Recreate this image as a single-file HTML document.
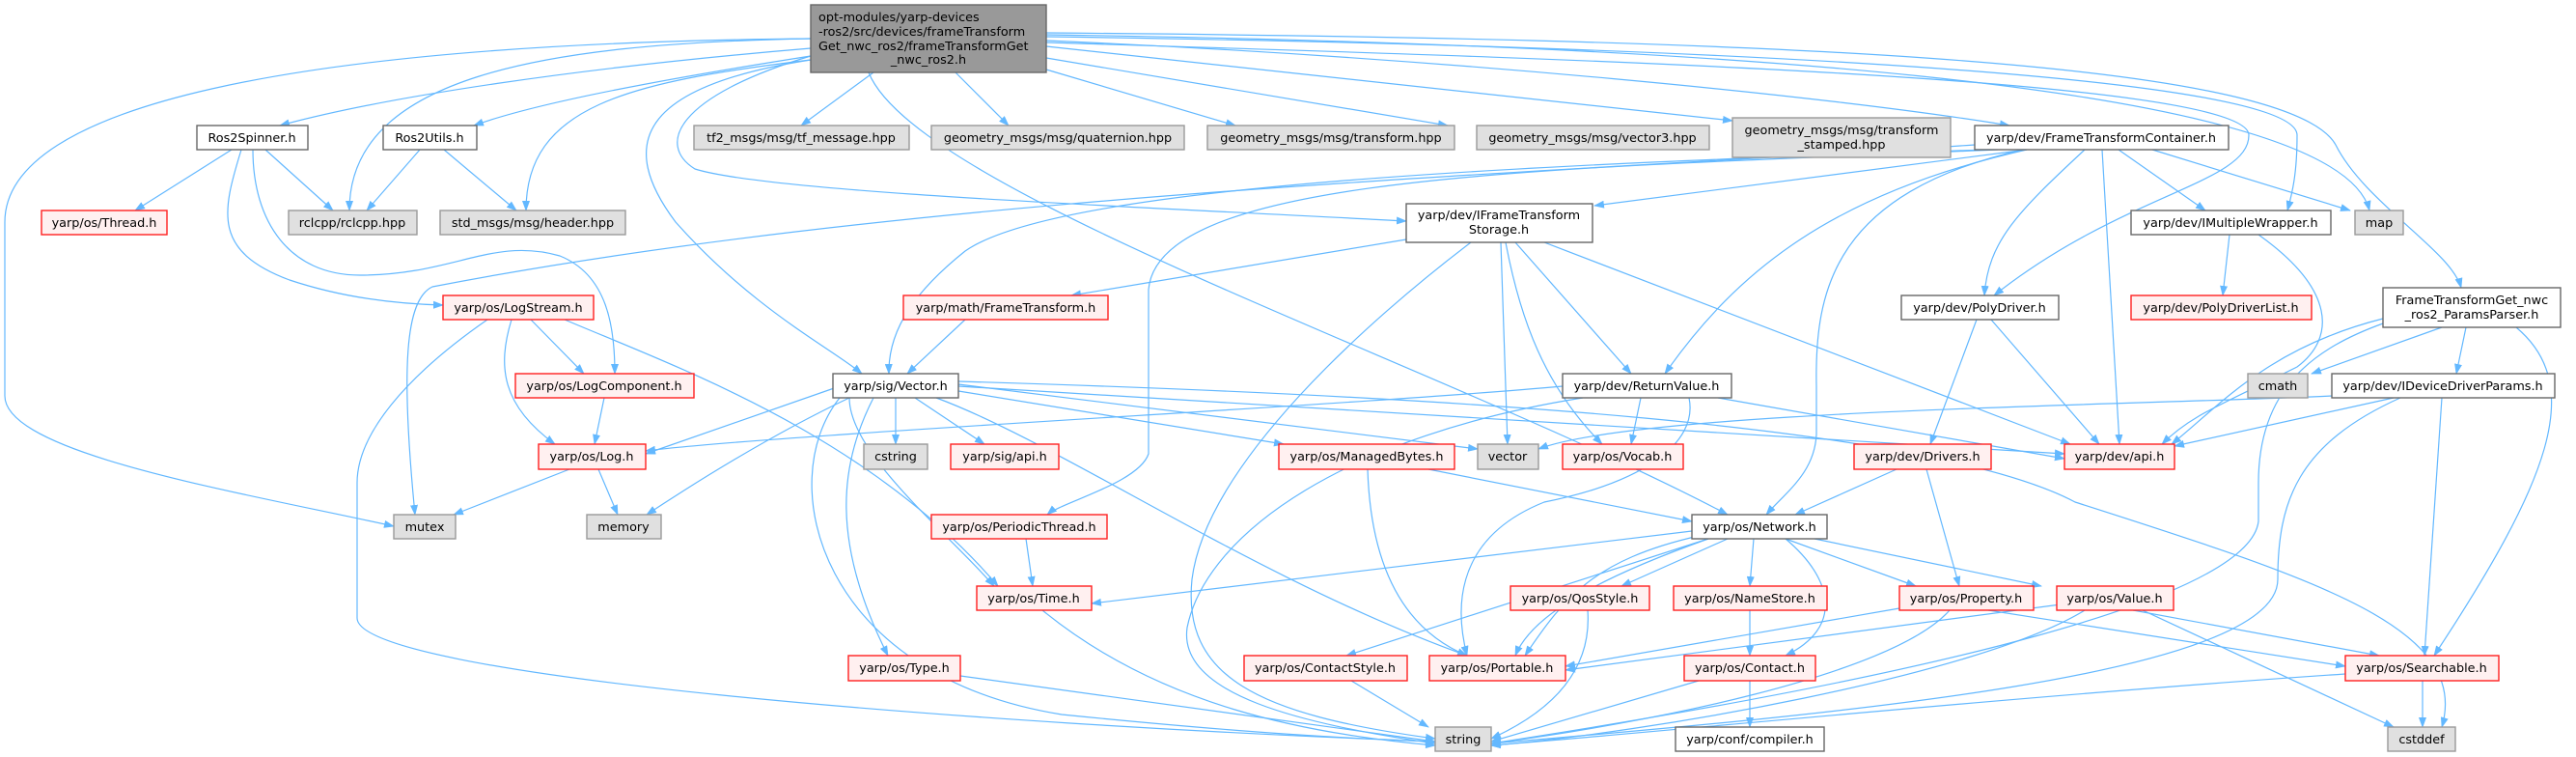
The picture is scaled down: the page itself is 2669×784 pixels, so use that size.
<!DOCTYPE html>
<html><head><meta charset="utf-8"><style>
html,body{margin:0;padding:0;background:#fff;}
svg{display:block;}
text{font-family:"DejaVu Sans","Liberation Sans",sans-serif;font-size:12.8px;fill:#000;}
.e{fill:none;stroke:#63b8ff;stroke-width:1.2;marker-end:url(#a);}
.g{fill:#e0e0e0;stroke:#999;stroke-width:1.4;}
.w{fill:#fff;stroke:#666;stroke-width:1.4;}
.r{fill:#fff0f0;stroke:#ff2020;stroke-width:1.4;}
</style></head><body>
<svg width="2669" height="784" viewBox="0 0 2669 784" xmlns="http://www.w3.org/2000/svg">
<defs><marker id="a" markerWidth="11" markerHeight="8" refX="10" refY="4" orient="auto" markerUnits="userSpaceOnUse"><path d="M0,0 L11,4 L0,8 z" fill="#63b8ff"/></marker></defs>
<g>
<path class="e" d="M840,50 C600,70 400,100 290,130"/>
<path class="e" d="M840,40 C560,45 362,80 362,218"/>
<path class="e" d="M840,58 C700,80 560,105 491,130"/>
<path class="e" d="M840,62 C650,85 545,110 545,218"/>
<path class="e" d="M905,75 L830,130"/>
<path class="e" d="M990,75 L1045,130"/>
<path class="e" d="M1084,72 L1280,130"/>
<path class="e" d="M1084,60 L1500,130"/>
<path class="e" d="M1084,48 L1795,125"/>
<path class="e" d="M1084,42 C1500,60 1900,100 2082,130"/>
<path class="e" d="M1084,38 C1600,45 2380,70 2380,140 C2380,180 2375,200 2370,218"/>
<path class="e" d="M1084,36 C1700,45 2420,80 2455,218"/>
<path class="e" d="M1084,44 C1600,60 2330,80 2330,140 C2330,190 2200,200 2066,306"/>
<path class="e" d="M1084,34 C1800,40 2370,60 2420,150 C2450,210 2540,260 2550,298"/>
<path class="e" d="M840,58 C700,100 680,150 720,175 C800,200 1200,215 1457,229"/>
<path class="e" d="M840,62 C660,90 640,150 700,230 C780,320 860,360 893,387"/>
<path class="e" d="M840,40 C300,45 5,110 5,230 L5,410 C5,470 250,510 408,545"/>
<path class="e" d="M900,75 C950,200 1500,380 1790,533"/>
<path class="e" d="M2100,155 L1652,213"/>
<path class="e" d="M2060,155 C1600,170 1100,190 1000,260 C950,300 920,340 921,387"/>
<path class="e" d="M2070,155 C1600,175 1200,180 1190,300 L1190,470 C1180,500 1100,520 1085,533"/>
<path class="e" d="M2046,150 C1600,180 950,200 448,297 C420,310 415,380 430,533"/>
<path class="e" d="M2100,155 C1900,200 1800,280 1725,387"/>
<path class="e" d="M2160,155 C2090,220 2060,250 2056,306"/>
<path class="e" d="M2195,155 L2285,218"/>
<path class="e" d="M2230,155 L2435,218"/>
<path class="e" d="M2178,155 L2196,460"/>
<path class="e" d="M2096,155 C1900,200 1880,300 1882,400 L1882,450 C1880,490 1850,510 1830,533"/>
<path class="e" d="M2310,243 L2303,306"/>
<path class="e" d="M2340,243 C2420,300 2420,350 2380,380 C2300,420 2270,430 2240,460"/>
<path class="e" d="M1457,248 L1110,306"/>
<path class="e" d="M1570,251 L1690,387"/>
<path class="e" d="M1555,251 L1562,460"/>
<path class="e" d="M1560,251 C1575,330 1600,400 1660,460"/>
<path class="e" d="M1524,251 C1420,330 1250,480 1235,600 C1225,700 1300,740 1487,765"/>
<path class="e" d="M1600,251 L2145,460"/>
<path class="e" d="M1000,331 L940,387"/>
<path class="e" d="M240,155 L140,218"/>
<path class="e" d="M275,155 L345,218"/>
<path class="e" d="M250,155 C230,220 220,260 300,290 C360,310 420,315 459,316"/>
<path class="e" d="M262,155 C262,230 300,285 373,285 C470,285 510,245 580,265 C630,285 637,340 637,387"/>
<path class="e" d="M435,155 L380,218"/>
<path class="e" d="M460,155 L535,218"/>
<path class="e" d="M550,331 L605,387"/>
<path class="e" d="M530,331 C515,380 520,420 575,460"/>
<path class="e" d="M585,331 C700,380 900,450 1034,607"/>
<path class="e" d="M505,331 C420,390 370,450 370,500 L370,640 C370,700 1000,750 1487,768"/>
<path class="e" d="M626,412 L616,460"/>
<path class="e" d="M870,400 L669,470"/>
<path class="e" d="M880,412 C800,450 720,500 670,533"/>
<path class="e" d="M928,412 L928,460"/>
<path class="e" d="M948,412 L1020,460"/>
<path class="e" d="M993,405 L1330,460"/>
<path class="e" d="M993,398 L1531,465"/>
<path class="e" d="M970,412 C1100,460 1300,600 1520,679"/>
<path class="e" d="M905,412 C870,480 860,560 920,679"/>
<path class="e" d="M880,412 C880,470 980,550 1030,607"/>
<path class="e" d="M870,412 C800,500 850,700 1100,740 C1300,760 1400,765 1487,768"/>
<path class="e" d="M993,395 C1500,410 2000,440 2150,520 C2400,600 2560,650 2530,753"/>
<path class="e" d="M993,400 L2139,470"/>
<path class="e" d="M1619,400 C1400,420 800,450 669,467"/>
<path class="e" d="M1700,412 L1690,460"/>
<path class="e" d="M1780,412 L2139,475"/>
<path class="e" d="M1640,412 C1400,450 1250,550 1230,650 C1220,720 1350,750 1487,770"/>
<path class="e" d="M1750,412 C1760,460 1700,500 1600,520 C1500,560 1510,640 1520,679"/>
<path class="e" d="M1480,486 L1753,540"/>
<path class="e" d="M1417,486 C1420,580 1450,650 1520,679"/>
<path class="e" d="M1965,486 L1860,533"/>
<path class="e" d="M1996,486 L2030,607"/>
<path class="e" d="M2048,331 L2000,460"/>
<path class="e" d="M2063,331 L2175,460"/>
<path class="e" d="M2530,339 L2395,387"/>
<path class="e" d="M2555,339 L2545,387"/>
<path class="e" d="M2607,339 C2680,400 2640,500 2522,679"/>
<path class="e" d="M2469,335 C2400,360 2340,400 2340,500 L2340,540 C2330,620 2000,700 1545,770"/>
<path class="e" d="M2469,330 C2350,360 2300,420 2250,460"/>
<path class="e" d="M2416,410 C2200,420 1700,425 1594,465"/>
<path class="e" d="M2480,412 L2253,462"/>
<path class="e" d="M2530,412 L2512,679"/>
<path class="e" d="M2487,412 C2380,460 2360,520 2360,600 C2360,700 1900,740 1545,770"/>
<path class="e" d="M590,486 L470,533"/>
<path class="e" d="M620,486 L640,533"/>
<path class="e" d="M1063,558 L1070,607"/>
<path class="e" d="M1753,550 L1131,625"/>
<path class="e" d="M1760,555 C1650,580 1620,620 1580,679"/>
<path class="e" d="M1770,558 C1680,590 1590,630 1570,679"/>
<path class="e" d="M1770,558 L1395,679"/>
<path class="e" d="M1790,558 L1680,607"/>
<path class="e" d="M1817,558 L1813,607"/>
<path class="e" d="M1850,558 C1900,600 1910,650 1850,679"/>
<path class="e" d="M1850,558 L1985,607"/>
<path class="e" d="M1880,558 L2115,607"/>
<path class="e" d="M1080,632 C1200,730 1350,760 1487,772"/>
<path class="e" d="M995,700 L1487,768"/>
<path class="e" d="M1645,632 C1650,700 1600,740 1545,765"/>
<path class="e" d="M1813,632 L1813,679"/>
<path class="e" d="M1968,630 L1622,690"/>
<path class="e" d="M2060,632 L2430,690"/>
<path class="e" d="M2020,632 C1960,700 1700,750 1545,770"/>
<path class="e" d="M2135,626 L1622,694"/>
<path class="e" d="M2210,632 L2465,679"/>
<path class="e" d="M2160,632 C2050,700 1700,760 1545,772"/>
<path class="e" d="M2220,632 L2480,753"/>
<path class="e" d="M1400,705 L1480,753"/>
<path class="e" d="M1760,705 L1545,768"/>
<path class="e" d="M1813,705 L1813,753"/>
<path class="e" d="M2430,698 C2100,720 1700,760 1545,772"/>
<path class="e" d="M2510,705 L2510,753"/>
</g>
<g>
<rect x="840" y="5" width="244" height="70" fill="#999" stroke="#666" stroke-width="1.4"/>
<text x="848" y="22">opt-modules/yarp-devices</text>
<text x="848" y="37">-ros2/src/devices/frameTransform</text>
<text x="848" y="52">Get_nwc_ros2/frameTransformGet</text>
<text x="962" y="66" text-anchor="middle">_nwc_ros2.h</text>
</g>
<g text-anchor="middle">
<rect class="w" x="204" y="130" width="115" height="25"/><text x="261" y="147">Ros2Spinner.h</text>
<rect class="w" x="397" y="130" width="97" height="25"/><text x="445" y="147">Ros2Utils.h</text>
<rect class="g" x="719" y="130" width="223" height="25"/><text x="830" y="147">tf2_msgs/msg/tf_message.hpp</text>
<rect class="g" x="965" y="130" width="262" height="25"/><text x="1096" y="147">geometry_msgs/msg/quaternion.hpp</text>
<rect class="g" x="1251" y="130" width="256" height="25"/><text x="1379" y="147">geometry_msgs/msg/transform.hpp</text>
<rect class="g" x="1530" y="130" width="241" height="25"/><text x="1650" y="147">geometry_msgs/msg/vector3.hpp</text>
<rect class="g" x="1795" y="122" width="226" height="41"/><text x="1908" y="139">geometry_msgs/msg/transform</text><text x="1908" y="154">_stamped.hpp</text>
<rect class="w" x="2046" y="130" width="263" height="25"/><text x="2177" y="147">yarp/dev/FrameTransformContainer.h</text>
<rect class="r" x="43" y="218" width="130" height="25"/><text x="108" y="235">yarp/os/Thread.h</text>
<rect class="g" x="299" y="218" width="133" height="25"/><text x="365" y="235">rclcpp/rclcpp.hpp</text>
<rect class="g" x="456" y="218" width="192" height="25"/><text x="552" y="235">std_msgs/msg/header.hpp</text>
<rect class="w" x="2208" y="218" width="207" height="25"/><text x="2311" y="235">yarp/dev/IMultipleWrapper.h</text>
<rect class="g" x="2440" y="218" width="50" height="25"/><text x="2465" y="235">map</text>
<rect class="w" x="1457" y="211" width="193" height="40"/><text x="1553" y="227">yarp/dev/IFrameTransform</text><text x="1553" y="242">Storage.h</text>
<rect class="r" x="459" y="306" width="156" height="25"/><text x="537" y="323">yarp/os/LogStream.h</text>
<rect class="r" x="936" y="306" width="212" height="25"/><text x="1042" y="323">yarp/math/FrameTransform.h</text>
<rect class="w" x="1970" y="306" width="163" height="25"/><text x="2051" y="323">yarp/dev/PolyDriver.h</text>
<rect class="r" x="2208" y="306" width="187" height="25"/><text x="2301" y="323">yarp/dev/PolyDriverList.h</text>
<rect class="w" x="2469" y="298" width="184" height="41"/><text x="2561" y="315">FrameTransformGet_nwc</text><text x="2561" y="330">_ros2_ParamsParser.h</text>
<rect class="r" x="534" y="387" width="185" height="25"/><text x="626" y="404">yarp/os/LogComponent.h</text>
<rect class="w" x="863" y="387" width="130" height="25"/><text x="928" y="404">yarp/sig/Vector.h</text>
<rect class="w" x="1619" y="387" width="175" height="25"/><text x="1706" y="404">yarp/dev/ReturnValue.h</text>
<rect class="g" x="2329" y="387" width="62" height="25"/><text x="2360" y="404">cmath</text>
<rect class="w" x="2416" y="387" width="231" height="25"/><text x="2531" y="404">yarp/dev/IDeviceDriverParams.h</text>
<rect class="r" x="558" y="460" width="111" height="26"/><text x="613" y="477">yarp/os/Log.h</text>
<rect class="g" x="895" y="460" width="66" height="26"/><text x="928" y="477">cstring</text>
<rect class="r" x="985" y="460" width="112" height="26"/><text x="1041" y="477">yarp/sig/api.h</text>
<rect class="r" x="1325" y="460" width="182" height="26"/><text x="1416" y="477">yarp/os/ManagedBytes.h</text>
<rect class="g" x="1531" y="460" width="63" height="26"/><text x="1562" y="477">vector</text>
<rect class="r" x="1619" y="460" width="125" height="26"/><text x="1681" y="477">yarp/os/Vocab.h</text>
<rect class="r" x="1921" y="460" width="142" height="26"/><text x="1992" y="477">yarp/dev/Drivers.h</text>
<rect class="r" x="2139" y="460" width="114" height="26"/><text x="2196" y="477">yarp/dev/api.h</text>
<rect class="g" x="408" y="533" width="64" height="25"/><text x="440" y="550">mutex</text>
<rect class="g" x="608" y="533" width="77" height="25"/><text x="646" y="550">memory</text>
<rect class="r" x="965" y="533" width="182" height="25"/><text x="1056" y="550">yarp/os/PeriodicThread.h</text>
<rect class="w" x="1753" y="533" width="140" height="25"/><text x="1823" y="550">yarp/os/Network.h</text>
<rect class="r" x="1012" y="607" width="119" height="25"/><text x="1071" y="624">yarp/os/Time.h</text>
<rect class="r" x="1565" y="607" width="144" height="25"/><text x="1637" y="624">yarp/os/QosStyle.h</text>
<rect class="r" x="1734" y="607" width="159" height="25"/><text x="1813" y="624">yarp/os/NameStore.h</text>
<rect class="r" x="1968" y="607" width="139" height="25"/><text x="2037" y="624">yarp/os/Property.h</text>
<rect class="r" x="2131" y="607" width="121" height="25"/><text x="2191" y="624">yarp/os/Value.h</text>
<rect class="r" x="879" y="679" width="116" height="26"/><text x="937" y="696">yarp/os/Type.h</text>
<rect class="r" x="1289" y="679" width="169" height="26"/><text x="1373" y="696">yarp/os/ContactStyle.h</text>
<rect class="r" x="1481" y="679" width="141" height="26"/><text x="1551" y="696">yarp/os/Portable.h</text>
<rect class="r" x="1745" y="679" width="136" height="26"/><text x="1813" y="696">yarp/os/Contact.h</text>
<rect class="r" x="2430" y="679" width="159" height="26"/><text x="2509" y="696">yarp/os/Searchable.h</text>
<rect class="g" x="1487" y="753" width="58" height="25"/><text x="1516" y="770">string</text>
<rect class="w" x="1736" y="753" width="154" height="25"/><text x="1813" y="770">yarp/conf/compiler.h</text>
<rect class="g" x="2474" y="753" width="70" height="25"/><text x="2509" y="770">cstddef</text>
</g>
</svg>
</body></html>
